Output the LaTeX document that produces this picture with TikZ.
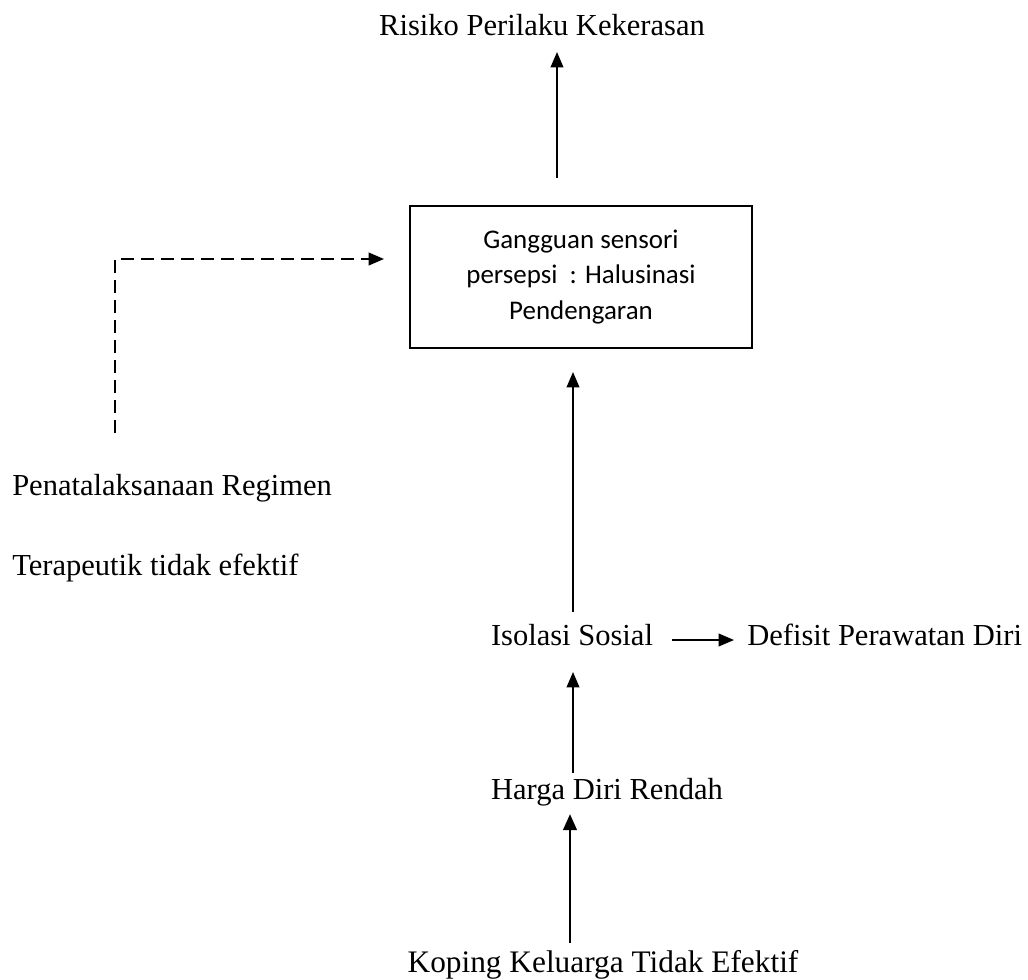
\documentclass[tikz,border=0pt]{standalone}
\usepackage{fontspec}
\setmainfont{Liberation Serif}
\newfontfamily\boxfont{Carlito}
\usetikzlibrary{arrows.meta}
\begin{document}
\begin{tikzpicture}[x=0.75pt,y=-0.75pt,
  lbl/.style={inner sep=0pt,font=\fontsize{22.9pt}{27pt}\selectfont},
  lblbig/.style={inner sep=0pt,font=\fontsize{23.5pt}{28pt}\selectfont},
  arr/.style={line width=1.2pt,-{Triangle[width=9.5pt,length=11.5pt]}},
  arrthick/.style={line width=2.1pt,-{Triangle[width=10pt,length=12pt]}},
  dasharr/.style={line width=1.3pt,dash pattern=on 9.5pt off 5.5pt,-{Triangle[width=9.5pt,length=11.5pt]}},
  diagbox/.style={draw,line width=1.2pt,minimum width=256.5pt,minimum height=106.5pt,inner sep=0pt,align=center,
     font=\boxfont\fontsize{20.2pt}{26.5pt}\selectfont}]
\useasboundingbox (0,0) rectangle (1028,979);
% nodes
\node[lbl,anchor=base] (risiko) at (542,35) {Risiko Perilaku Kekerasan};
\node[diagbox] (box) at (581,277) {Gangguan sensori\\persepsi\ \ : Halusinasi\\Pendengaran};
\node[lbl,anchor=base west] (pen1) at (12,495) {Penatalaksanaan Regimen};
\node[lbl,anchor=base west] (pen2) at (12,575) {Terapeutik tidak efektif};
\node[lbl,anchor=base] (isolasi) at (572,645) {Isolasi Sosial};
\node[lbl,anchor=base west] (defisit) at (747,645) {Defisit Perawatan Diri};
\node[lbl,anchor=base] (harga) at (607,799) {Harga Diri Rendah};
\node[lblbig,anchor=base] (koping) at (603,972) {Koping Keluarga Tidak Efektif};
% free ends / bends
\coordinate (r0) at (557,178);
\coordinate (r1) at (557,52);
\coordinate (d0) at (115,433);
\coordinate (d1) at (115,259);
\coordinate (d2) at (384,259);
\coordinate (i0) at (573,612);
\coordinate (i1) at (573,372);
\coordinate (s0) at (672,640);
\coordinate (s1) at (734,640);
\coordinate (h0) at (573,773);
\coordinate (h1) at (573,672);
\coordinate (k0) at (570,943);
\coordinate (k1) at (570,814);
% connectors
\draw[arr] (r0) -- (r1);
\draw[dasharr] (d0) -- (d1) -- (d2);
\draw[arr] (i0) -- (i1);
\draw[arr] (s0) -- (s1);
\draw[arr] (h0) -- (h1);
\draw[arrthick] (k0) -- (k1);
\end{tikzpicture}
\end{document}
